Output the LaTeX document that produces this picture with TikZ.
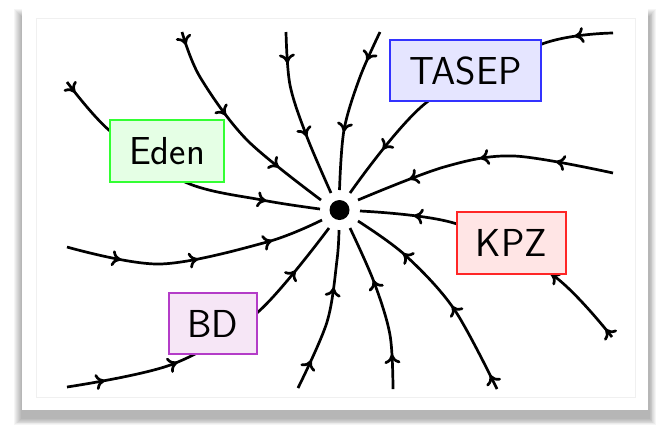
\documentclass[tikz,border=0pt]{standalone}
\usetikzlibrary{decorations.markings,arrows.meta}
\definecolor{bdborder}{RGB}{180,60,200}
\definecolor{bdfill}{RGB}{246,230,246}
\newcommand\flowline[2]{\draw[flow, decoration={markings,#1}] plot[smooth, tension=0.55] coordinates {#2};}
\begin{document}
\begin{tikzpicture}[x=0.5pt,y=-0.5pt,
  flow/.style={line width=1.35pt, postaction={decorate}},
  fm/.tip={Computer Modern Rightarrow[width=8pt,length=4.6pt]},
  lbl/.style={draw, line width=0.8pt, inner sep=0pt, font=\sffamily\fontsize{19.5}{23}\selectfont},
]
\fill[white] (0,0) rectangle (657,425);
\useasboundingbox (0,0) rectangle (657,425);
% photo frame with shadow
\foreach \i in {0,...,7} \fill[black,opacity=0.04] (14+\i,9+\i) rectangle (656-0.9*\i,425-0.8*\i);
\fill[white] (22,5) rectangle (648,410);
\draw[black!6, line width=0.5pt] (36,18) rectangle (635,397);
% flow lines
\flowline{mark=at position 0.045 with {\arrow{fm}}, mark=at position 0.815 with {\arrow{fm}}}
  {(67,82) (110,131) (185,182) (262,200) (320,209)}
\flowline{mark=at position 0.06 with {\arrow{fm}}, mark=at position 0.425 with {\arrow{fm}}, mark=at position 0.76 with {\arrow{fm}}}
  {(182,32) (200,77) (247,140) (321,200)}
\flowline{mark=at position 0.185 with {\arrow{fm}}, mark=at position 0.635 with {\arrow{fm}}}
  {(286,32) (290,85) (307,137) (331,193)}
\flowline{mark=at position 0.19 with {\arrow{fm}}, mark=at position 0.645 with {\arrow{fm}}}
  {(380,32) (360,77) (344,130) (339.5,190)}
\flowline{mark=at position 0.12 with {\arrow{fm}}, mark=at position 0.83 with {\arrow{fm}}}
  {(613,33) (542,44) (427,102) (350,193)}
\flowline{mark=at position 0.22 with {\arrow{fm}}, mark=at position 0.51 with {\arrow{fm}}, mark=at position 0.79 with {\arrow{fm}}}
  {(613,173) (514,156) (444,167) (358,200)}
\flowline{mark=at position 0.035 with {\arrow{fm}}, mark=at position 0.3 with {\arrow{fm}}, mark=at position 0.815 with {\arrow{fm}}}
  {(612,337) (554,276) (457,224) (360,211)}
\flowline{mark=at position 0.07 with {\arrow{fm}}, mark=at position 0.425 with {\arrow{fm}}, mark=at position 0.75 with {\arrow{fm}}}
  {(497,389) (454,309) (405,255) (358,221)}
\flowline{mark=at position 0.205 with {\arrow{fm}}, mark=at position 0.66 with {\arrow{fm}}}
  {(393,389) (390,335) (374,282) (350,228)}
\flowline{mark=at position 0.185 with {\arrow{fm}}, mark=at position 0.65 with {\arrow{fm}}}
  {(298,388) (327,322) (337,260) (339,230)}
\flowline{mark=at position 0.12 with {\arrow{fm}}, mark=at position 0.355 with {\arrow{fm}}, mark=at position 0.83 with {\arrow{fm}}}
  {(67,387) (173,364) (258,312) (329,228)}
\flowline{mark=at position 0.21 with {\arrow{fm}}, mark=at position 0.505 with {\arrow{fm}}, mark=at position 0.795 with {\arrow{fm}}}
  {(67,247) (160,264) (267,242) (322,220)}
% fixed point
\node[circle, fill=black, inner sep=0pt, minimum size=10pt] (fp) at (339.5,210) {};
% labels
\node[lbl, draw=green!80, fill=green!10, minimum width=57pt, minimum height=31pt] (eden) at (167,151) {Eden};
\node[lbl, draw=blue!80, fill=blue!10, minimum width=75.5pt, minimum height=30.5pt] (tasep) at (465.5,70.5) {TASEP};
\node[lbl, draw=red!85, fill=red!10, minimum width=54.5pt, minimum height=31pt] (kpz) at (511.5,243) {KPZ};
\node[lbl, draw=bdborder, fill=bdfill, minimum width=44pt, minimum height=30.5pt] (bd) at (213,323.5) {BD};
\end{tikzpicture}
\end{document}
